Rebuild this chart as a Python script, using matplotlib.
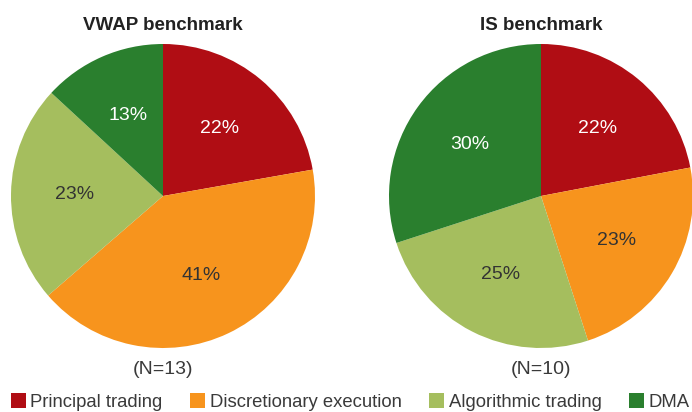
import matplotlib

matplotlib.use("Agg")
import matplotlib.pyplot as plt
from matplotlib.patches import Patch

plt.rcParams["font.family"] = ["Liberation Sans", "DejaVu Sans"]

categories = ["Principal trading", "Discretionary execution", "Algorithmic trading", "DMA"]
colors = ["#B00D14", "#F7941D", "#A5BE5E", "#2A7F2E"]
label_colors = ["white", "#333333", "#333333", "white"]

vwap_share = [22, 41, 23, 13]
is_share = [22, 23, 25, 30]
titles = ["VWAP benchmark", "IS benchmark"]
counts = ["(N=13)", "(N=10)"]

W, H = 692, 412
fig = plt.figure(figsize=(W / 100, H / 100), dpi=100)

centers = [(163, 196), (541, 196)]
r = 152
for (cx, cy), values, title, n in zip(centers, [vwap_share, is_share], titles, counts):
    ax = fig.add_axes([(cx - r) / W, (H - cy - r) / H, 2 * r / W, 2 * r / H])
    wedges, texts, autotexts = ax.pie(
        values, colors=colors, startangle=90, counterclock=False,
        autopct="%d%%", pctdistance=0.58, radius=1,
        wedgeprops=dict(linewidth=0),
    )
    for t, c in zip(autotexts, label_colors):
        t.set_color(c)
        t.set_fontsize(14)
    ax.set_xlim(-1, 1)
    ax.set_ylim(-1, 1)
    ax.set_aspect("equal")
    ax.axis("off")
    fig.text(cx / W, 1 - 25 / H, title, ha="center", va="center",
             fontsize=13.5, fontweight="bold", color="#222222")
    fig.text(cx / W, 1 - 370 / H, n, ha="center", va="center",
             fontsize=14, color="#3a3a3a")

handles = [Patch(facecolor=c, edgecolor="none") for c in colors]
fig.legend(handles, categories, loc="center left", bbox_to_anchor=(11 / W, 1 - 402 / H),
           ncol=4, frameon=False, fontsize=13.3, handlelength=0.8, handleheight=0.9,
           handletextpad=0.25, columnspacing=1.5, borderaxespad=0, borderpad=0,
           labelcolor="#3a3a3a")

fig.savefig("out.png", dpi=100)
plt.close(fig)
